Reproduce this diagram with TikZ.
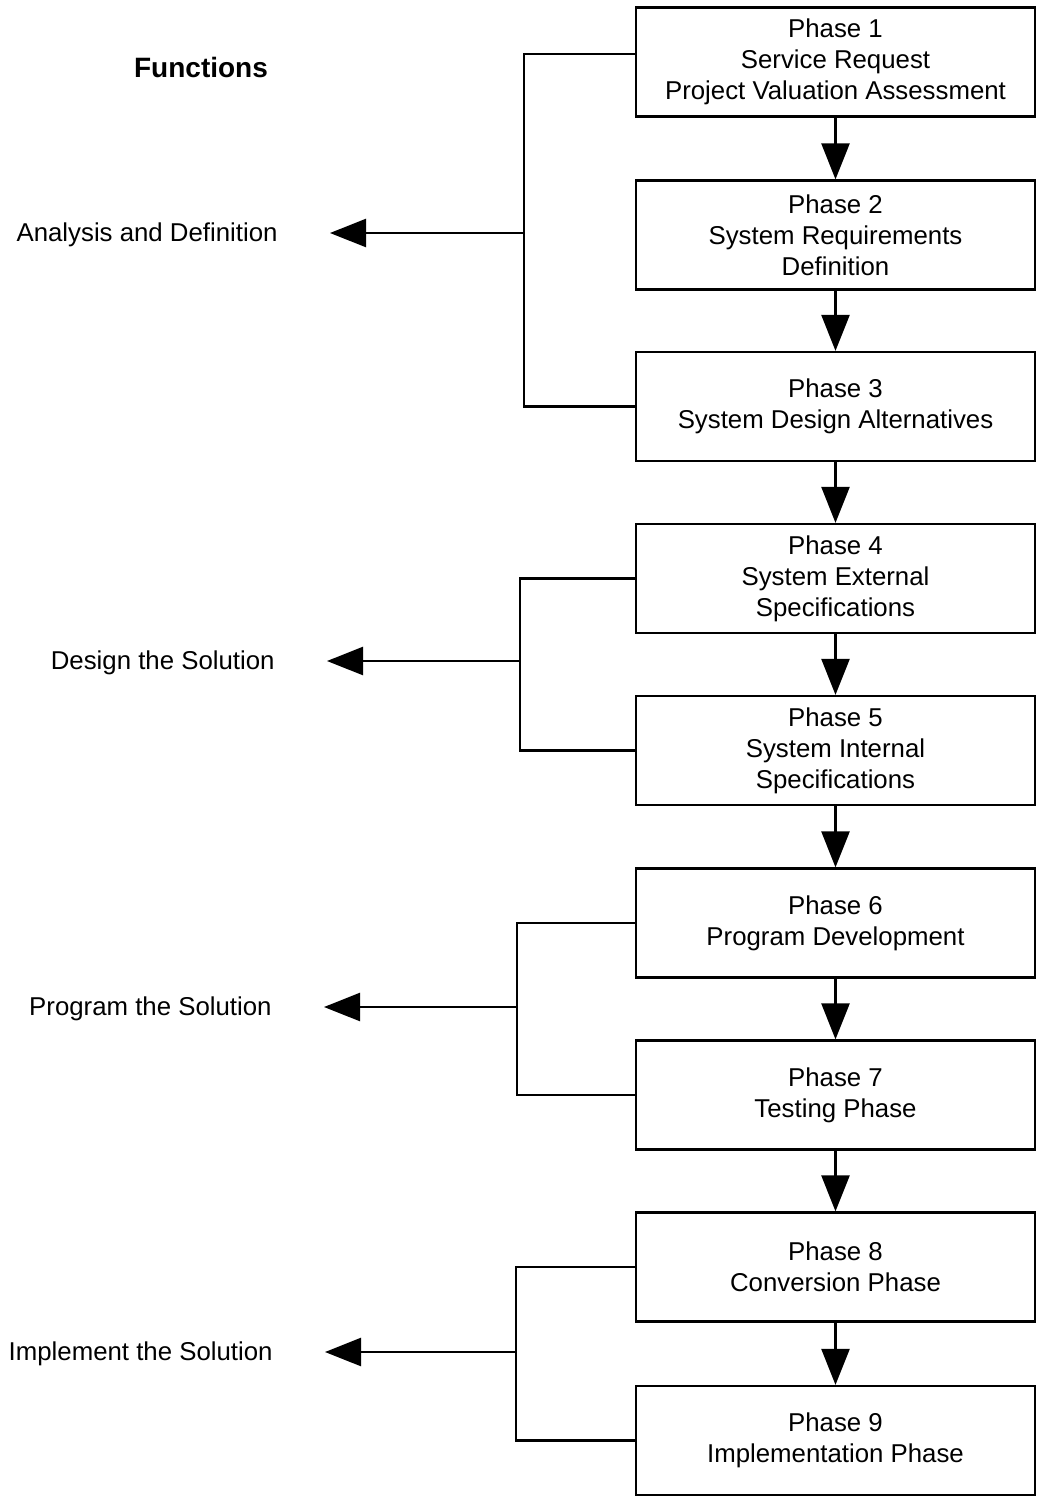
\documentclass[tikz,border=0pt]{standalone}
\usepackage{fontspec}
\setmainfont{Liberation Sans}
\usetikzlibrary{arrows.meta}
\begin{document}
\begin{tikzpicture}[x=0.5pt,y=-0.5pt,
  phase/.style={draw,line width=1.1pt,minimum width=199.5pt,minimum height=54.5pt,
    align=center,inner sep=0pt,font=\fontsize{12.9}{15.5}\selectfont},
  func/.style={inner sep=0pt,anchor=east,font=\fontsize{12.9}{15.5}\selectfont},
  flow/.style={line width=1.2pt,-{Triangle[length=18pt,width=14pt]}},
  brk/.style={line width=1.1pt},
  larr/.style={line width=1.2pt,-{Triangle[length=18pt,width=14pt]},shorten >=26pt}]
\useasboundingbox (0,0) rectangle (1040,1500);
\node[inner sep=0pt,font=\fontsize{14}{17}\selectfont\bfseries] (fn) at (201,67) {Functions};
\node[phase] (b1) at (835.5,62) {Phase 1\\Service Request\\Project Valuation Assessment};
\node[phase] (b2) at (835.5,235) {Phase 2\\System Requirements\\Definition};
\node[phase] (b3) at (835.5,406.5) {Phase 3\\System Design Alternatives};
\node[phase] (b4) at (835.5,578.5) {Phase 4\\System External\\Specifications};
\node[phase] (b5) at (835.5,750.5) {Phase 5\\System Internal\\Specifications};
\node[phase] (b6) at (835.5,923) {Phase 6\\Program Development};
\node[phase] (b7) at (835.5,1095) {Phase 7\\Testing Phase};
\node[phase] (b8) at (835.5,1267) {Phase 8\\Conversion Phase};
\node[phase] (b9) at (835.5,1440.5) {Phase 9\\Implementation Phase};
\foreach \a/\b in {b1/b2,b2/b3,b3/b4,b4/b5,b5/b6,b6/b7,b7/b8,b8/b9}
  \draw[flow] (\a) -- (\b);
% labels
\node[func] (l1) at (278,235) {Analysis and Definition};
\node[func] (l2) at (275,663) {Design the Solution};
\node[func] (l3) at (272,1009) {Program the Solution};
\node[func] (l4) at (273,1354) {Implement the Solution};
% brackets
\coordinate (t1) at (524,54);
\coordinate (m1) at (524,233);
\draw[brk] (t1 -| b1.west) -- (t1) |- (b3.west);
\draw[larr] (m1) -- (m1 -| l1.east);
\coordinate (m2) at (520,661);
\draw[brk] (b4.west) -| (m2) |- (b5.west);
\draw[larr] (m2) -- (m2 -| l2.east);
\coordinate (m3) at (517,1007);
\draw[brk] (b6.west) -| (m3) |- (b7.west);
\draw[larr] (m3) -- (m3 -| l3.east);
\coordinate (m4) at (516,1352);
\draw[brk] (b8.west) -| (m4) |- (b9.west);
\draw[larr] (m4) -- (m4 -| l4.east);
\end{tikzpicture}
\end{document}
